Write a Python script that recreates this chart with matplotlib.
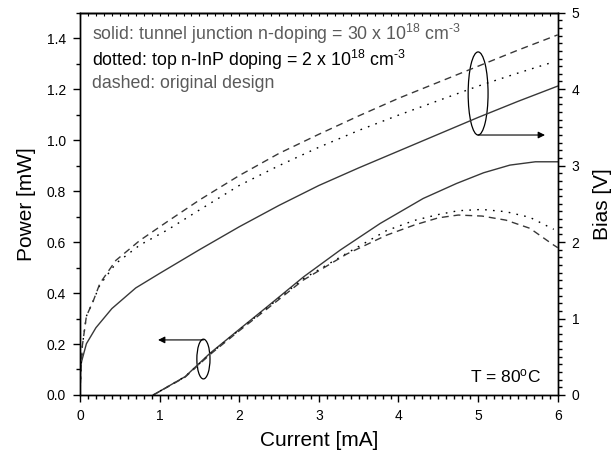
import numpy as np
import matplotlib
matplotlib.use("Agg")
import matplotlib.pyplot as plt
from matplotlib.patches import Ellipse
from matplotlib.ticker import MultipleLocator, FormatStrFormatter

plt.rcParams['font.family'] = ['Liberation Sans', 'DejaVu Sans']
plt.rcParams['mathtext.default'] = 'regular'

# bias curves (right axis, V)
bias_solid_i = [0, 0.01, 0.08, 0.2, 0.4, 0.7, 1.0, 1.5, 2.0, 2.5, 3.0, 3.5, 4.0, 4.5, 5.0, 5.5, 6.0]
bias_solid_v = [0, 0.40, 0.67, 0.88, 1.13, 1.40, 1.59, 1.90, 2.20, 2.48, 2.74, 2.97, 3.19, 3.41, 3.63, 3.84, 4.04]

bias_dash_i = [0, 0.01, 0.03, 0.08, 0.17, 0.25, 0.45, 0.75, 1.1, 1.5, 2.0, 2.5, 3.0, 3.5, 4.0, 4.5, 5.0, 5.5, 6.0]
bias_dash_v = [0, 0.30, 0.65, 1.03, 1.24, 1.46, 1.76, 2.02, 2.27, 2.55, 2.87, 3.16, 3.41, 3.65, 3.88, 4.09, 4.30, 4.51, 4.71]

bias_dot_i = [0, 0.01, 0.03, 0.08, 0.17, 0.25, 0.45, 0.75, 1.1, 1.5, 2.0, 2.5, 3.0, 3.5, 4.0, 4.5, 5.0, 5.5, 5.93]
bias_dot_v = [0, 0.30, 0.65, 1.03, 1.24, 1.44, 1.72, 1.96, 2.16, 2.42, 2.74, 3.00, 3.24, 3.46, 3.66, 3.85, 4.04, 4.21, 4.35]

# power curves (left axis, mW)
pow_solid_i = [0.92, 1.32, 1.63, 2.01, 2.35, 2.81, 3.27, 3.77, 4.31, 4.73, 5.07, 5.40, 5.72, 6.0]
pow_solid_p = [0, 0.072, 0.163, 0.26, 0.346, 0.464, 0.569, 0.673, 0.771, 0.83, 0.872, 0.902, 0.915, 0.915]

pow_dot_i = [0.92, 1.32, 1.63, 2.0, 2.35, 2.8, 3.35, 3.85, 4.2, 4.5, 4.75, 5.05, 5.35, 5.65, 5.95]
pow_dot_p = [0, 0.072, 0.16, 0.255, 0.342, 0.455, 0.556, 0.645, 0.685, 0.708, 0.723, 0.728, 0.719, 0.697, 0.650]

pow_dash_i = [0.92, 1.32, 1.63, 2.0, 2.35, 2.8, 3.35, 3.85, 4.2, 4.5, 4.75, 5.05, 5.35, 5.65, 5.95, 6.0]
pow_dash_p = [0, 0.07, 0.158, 0.252, 0.338, 0.45, 0.553, 0.627, 0.667, 0.695, 0.706, 0.702, 0.686, 0.654, 0.588, 0.578]

grey = '#383838'

fig = plt.figure(figsize=(6.16, 4.58), dpi=100)
ax = fig.add_axes([0.1299, 0.1376, 0.7755, 0.8347])
ax2 = ax.twinx()

ax.plot(pow_solid_i, pow_solid_p, color=grey, lw=1.0)
ax.plot(pow_dot_i, pow_dot_p, color='black', lw=1.0, dashes=(1.2, 4.5))
ax.plot(pow_dash_i, pow_dash_p, color=grey, lw=1.0, dashes=(5, 3.5))

ax2.plot(bias_solid_i, bias_solid_v, color=grey, lw=1.0)
ax2.plot(bias_dot_i, bias_dot_v, color='black', lw=1.0, dashes=(1.2, 4.5))
ax2.plot(bias_dash_i, bias_dash_v, color=grey, lw=1.0, dashes=(5, 3.5))

ax.set_xlim(0, 6)
ax.set_ylim(0, 1.5)
ax2.set_ylim(0, 5)

ax.xaxis.set_major_locator(MultipleLocator(1))
ax.xaxis.set_minor_locator(MultipleLocator(0.1))
ax.yaxis.set_major_locator(MultipleLocator(0.2))
ax.yaxis.set_minor_locator(MultipleLocator(0.1))
ax.yaxis.set_major_formatter(FormatStrFormatter('%.1f'))
ax2.yaxis.set_major_locator(MultipleLocator(1))
ax2.yaxis.set_minor_locator(MultipleLocator(0.1))

ax.tick_params(which='major', direction='out', length=5, width=1, labelsize=10, pad=5)
ax.tick_params(which='minor', direction='out', length=3, width=1)
ax2.tick_params(which='major', direction='out', length=5, width=1, labelsize=10, pad=5)
ax2.tick_params(which='minor', direction='out', length=3, width=1)

top = ax.secondary_xaxis('top')
top.xaxis.set_major_locator(MultipleLocator(1))
top.xaxis.set_minor_locator(MultipleLocator(0.1))
top.tick_params(which='both', direction='in', length=2, width=0.8, labeltop=False)

for a in (ax, ax2):
    for s in a.spines.values():
        s.set_linewidth(1.0)
top.spines['top'].set_linewidth(1.0)

ax.set_xlabel('Current [mA]', fontsize=15, labelpad=6)
ax.set_ylabel('Power [mW]', fontsize=15, labelpad=8)
ax2.set_ylabel('Bias [V]', fontsize=15, labelpad=10)

ax.text(0.155, 1.392, 'solid: tunnel junction n-doping = 30 x 10$^{18}$ cm$^{\u20103}$',
        fontsize=12.8, color='#5a5a5a', va='baseline')
ax.text(0.155, 1.291, 'dotted: top n-InP doping = 2 x 10$^{18}$ cm$^{\u20103}$',
        fontsize=12.8, color='black', va='baseline')
ax.text(0.155, 1.204, 'dashed: original design',
        fontsize=12.8, color='#5a5a5a', va='baseline')
ax.text(5.79, 0.048, 'T = 80$^{o}$C', fontsize=12.5, ha='right', va='baseline')

# ellipses marking curve groups
ax.add_patch(Ellipse((5.0, 1.183), 0.25, 0.326, fill=False, lw=0.9, ec='black'))
ax.annotate('', xy=(5.84, 1.02), xytext=(5.0, 1.02),
            arrowprops=dict(arrowstyle='-|>', color='black', lw=0.8,
                            mutation_scale=10, shrinkA=0, shrinkB=0))
ax.add_patch(Ellipse((1.55, 0.141), 0.165, 0.156, fill=False, lw=0.9, ec='black'))
ax.annotate('', xy=(0.98, 0.216), xytext=(1.55, 0.216),
            arrowprops=dict(arrowstyle='-|>', color='black', lw=0.8,
                            mutation_scale=10, shrinkA=0, shrinkB=0))

fig.savefig('out.png', dpi=100)
